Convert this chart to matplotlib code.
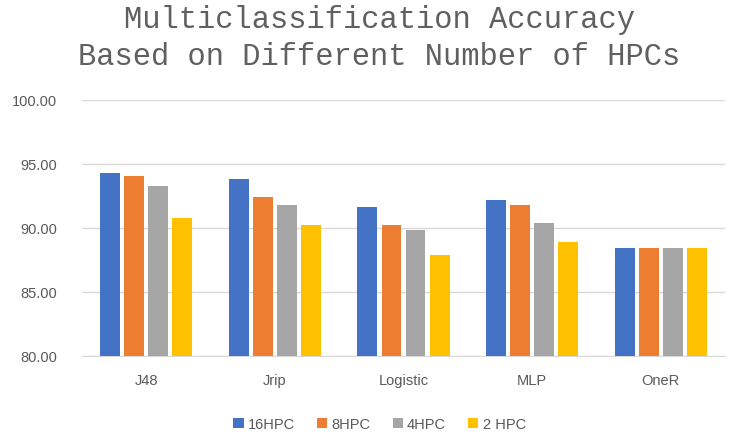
import numpy as np
from matplotlib import pyplot as plt

# data
categories = ["J48", "Jrip", "Logistic", "MLP", "OneR"]
series_names = ["16HPC", "8HPC", "4HPC", "2 HPC"]
hpc16 = [94.27, 93.80, 91.66, 92.16, 88.41]
hpc8 = [94.04, 92.40, 90.26, 91.80, 88.41]
hpc4 = [93.30, 91.77, 89.82, 90.41, 88.41]
hpc2 = [90.76, 90.26, 87.89, 88.90, 88.41]
yticks = [80, 85, 90, 95, 100]

colors = ["#4472C4", "#ED7D31", "#A5A5A5", "#FFC000"]

fig = plt.figure(figsize=(7.3, 4.35), dpi=100)
ax = fig.add_axes([82/730, 1 - 357/435, 643/730, 256/435])

x = np.arange(len(categories))
slot = 0.187
for i, (vals, name) in enumerate(zip([hpc16, hpc8, hpc4, hpc2], series_names)):
	ax.bar(x + (i - 1.5)*slot, np.array(vals) - 80, bottom=80, width=0.155,
		color=colors[i], label=name, zorder=3)

ax.set_ylim(80, 100)
ax.set_xlim(-0.5, len(categories) - 0.5)
ax.set_yticks(yticks)
ax.set_yticklabels(["%.2f" % v for v in yticks])
ax.set_xticks(x)
ax.set_xticklabels(categories)
ax.grid(axis='y', color='#d9d9d9', linewidth=1, zorder=0)
for s in ['top', 'right', 'left']:
	ax.spines[s].set_visible(False)
ax.spines['bottom'].set_color('#d9d9d9')
ax.tick_params(length=0, labelsize=10.5, labelcolor='#595959')
ax.tick_params(axis='x', pad=12)
ax.tick_params(axis='y', pad=18)
for t in ax.get_xticklabels() + ax.get_yticklabels():
	t.set_family('Liberation Sans')

fig.text(0.52, 0.955, "Multiclassification Accuracy", ha='center', va='center',
	family='Liberation Mono', fontsize=22, color='#606060')
fig.text(0.52, 0.868, "Based on Different Number of HPCs", ha='center', va='center',
	family='Liberation Mono', fontsize=22, color='#606060')

leg = fig.legend(loc='center', bbox_to_anchor=(0.52, 0.023), ncol=4, frameon=False,
	handlelength=0.7, handleheight=0.7, handletextpad=0.3, columnspacing=1.5,
	prop={'family': 'Liberation Sans', 'size': 10.5})
for t in leg.get_texts():
	t.set_color('#595959')

fig.savefig("out.png", dpi=100)
